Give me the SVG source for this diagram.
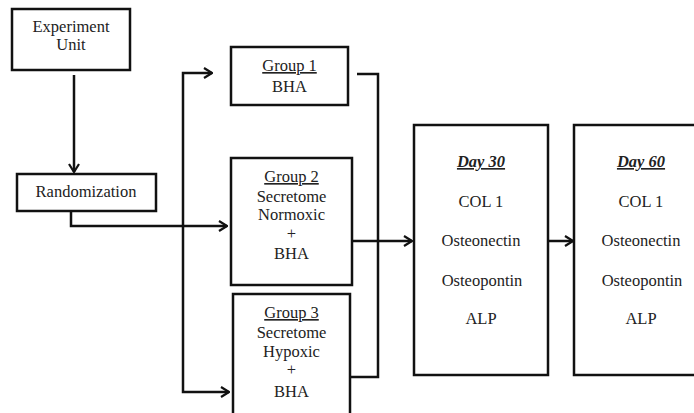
<svg xmlns="http://www.w3.org/2000/svg" width="694" height="413" viewBox="0 0 694 413">
<defs>
<marker id="arr" viewBox="0 0 10 12" refX="9" refY="6" markerWidth="10" markerHeight="12" markerUnits="userSpaceOnUse" orient="auto">
<path d="M1,1 L9,6 L1,11" fill="none" stroke="#111" stroke-width="2.2"/>
</marker>
<style>
.box{fill:#fff;stroke:#111;stroke-width:2.5}
.t{font-family:"Liberation Serif","Times New Roman",serif;font-size:16.5px;fill:#222;text-anchor:middle}
.u{text-decoration:underline}
.d{font-weight:bold;font-style:italic;text-decoration:underline}
.c{fill:none;stroke:#111;stroke-width:2.5}
</style>
</defs>
<rect width="694" height="413" fill="#fff"/>
<g id="connectors">
<path class="c" d="M74,75 V172" marker-end="url(#arr)"/>
<path class="c" d="M71,211 V226 H227" marker-end="url(#arr)"/>
<path class="c" d="M183,254 V73 H212" marker-end="url(#arr)"/>
<path class="c" d="M183,254 V392 H229" marker-end="url(#arr)"/>
<path class="c" d="M357,74 H378 V377 H350"/>
<path class="c" d="M352,241 H412" marker-end="url(#arr)"/>
<path class="c" d="M548,241 H573" marker-end="url(#arr)"/>
</g>
<g id="experiment-unit">
<rect class="box" x="12" y="9" width="118" height="61"/>
<text class="t" x="71" y="32">Experiment</text>
<text class="t" x="71" y="50">Unit</text>
</g>
<g id="randomization">
<rect class="box" x="17" y="174" width="139" height="37"/>
<text class="t" x="86" y="197">Randomization</text>
</g>
<g id="group1">
<rect class="box" x="231" y="47" width="117" height="58"/>
<text class="t u" x="289.5" y="71">Group 1</text>
<text class="t" x="289.5" y="92">BHA</text>
</g>
<g id="group2">
<rect class="box" x="231" y="158" width="121" height="127"/>
<text class="t u" x="291.5" y="182">Group 2</text>
<text class="t" x="291.5" y="202">Secretome</text>
<text class="t" x="291.5" y="220">Normoxic</text>
<text class="t" x="291.5" y="239">+</text>
<text class="t" x="291.5" y="259">BHA</text>
</g>
<g id="group3">
<rect class="box" x="233" y="294" width="117" height="130"/>
<text class="t u" x="291.5" y="318">Group 3</text>
<text class="t" x="291.5" y="338">Secretome</text>
<text class="t" x="291.5" y="357">Hypoxic</text>
<text class="t" x="291.5" y="375">+</text>
<text class="t" x="291.5" y="397">BHA</text>
</g>
<g id="day30">
<rect class="box" x="414" y="125" width="134" height="250"/>
<text class="t d" x="481" y="167">Day 30</text>
<text class="t" x="481" y="207">COL 1</text>
<text class="t" x="481" y="246">Osteonectin</text>
<text class="t" x="482" y="286">Osteopontin</text>
<text class="t" x="481" y="324">ALP</text>
</g>
<g id="day60">
<rect class="box" x="574" y="125" width="134" height="250"/>
<text class="t d" x="641" y="167">Day 60</text>
<text class="t" x="641" y="207">COL 1</text>
<text class="t" x="641" y="246">Osteonectin</text>
<text class="t" x="642" y="286">Osteopontin</text>
<text class="t" x="641" y="324">ALP</text>
</g>
</svg>
